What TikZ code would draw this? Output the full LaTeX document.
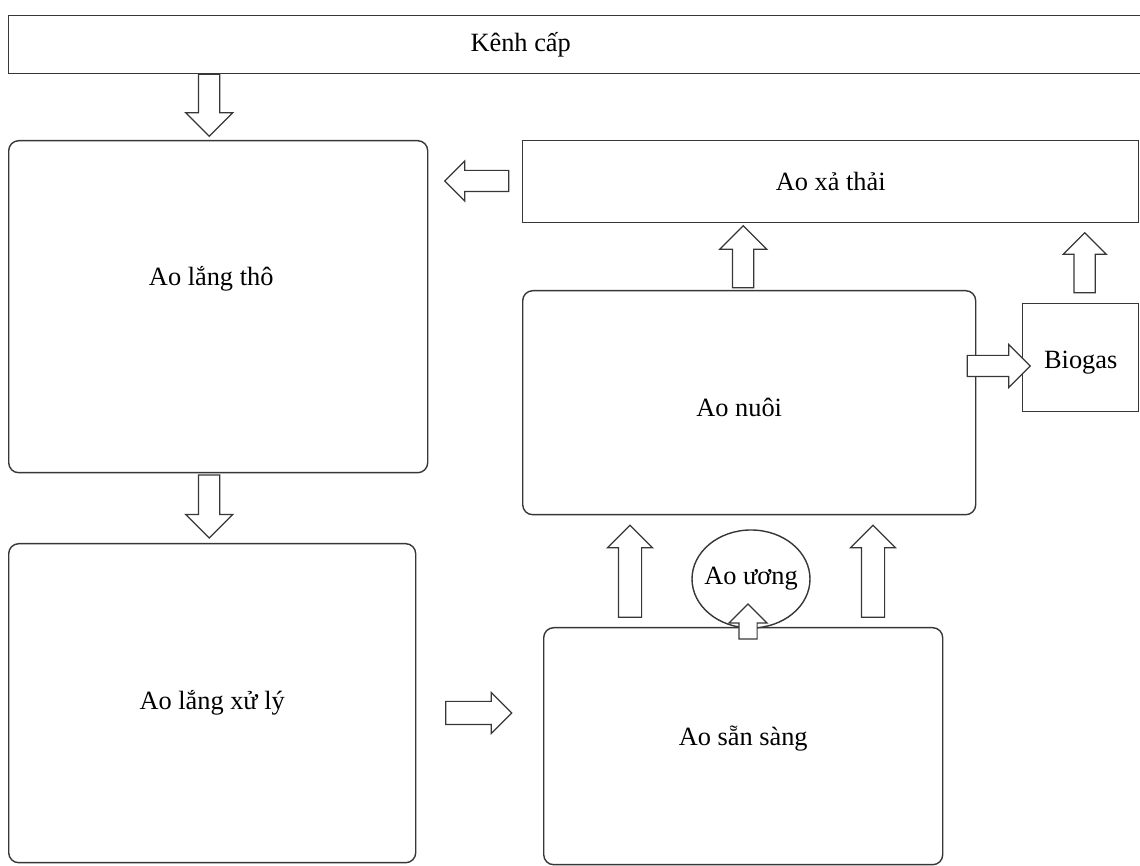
\documentclass[tikz,border=0pt]{standalone}
\usepackage{fontspec}
\setmainfont{Liberation Serif}
\usetikzlibrary{shapes.geometric, shapes.arrows, positioning, calc}
\definecolor{inkgray}{RGB}{55,55,55}

\begin{document}
\begin{tikzpicture}[
    pond/.style={rectangle, draw=inkgray, line width=0.8pt, rounded corners=0.2cm,
                 anchor=north west, inner sep=0pt},
    canal/.style={rectangle, draw=inkgray, line width=0.8pt,
                  anchor=north west, inner sep=0pt},
    blockarrow/.style={single arrow, draw=inkgray, fill=white, line width=0.7pt,
                       inner xsep=0pt, inner ysep=0.2cm, single arrow head extend=0.26cm,
                       minimum height=1.24cm},
    every node/.style={font=\fontsize{15}{18}\selectfont}
]
    \useasboundingbox (0,0) rectangle (22.8,17.32);

    % Top row - supply canal and discharge pond
    \node[canal, minimum width=23cm, minimum height=1.16cm,
          label={[name=kenh-txt, xshift=-1.26cm]center:Kênh cấp}] (kenh) at (0.16,17.02) {};
    \node[canal, minimum width=12.32cm, minimum height=1.64cm] (xathai) at (10.44,14.52) {Ao xả thải};

    % Left column - settling ponds
    \node[pond, minimum width=8.38cm, minimum height=6.64cm,
          label={[name=tho-txt, xshift=-0.14cm, yshift=0.56cm]center:Ao lắng thô}] (tho) at (0.16,14.52) {};
    \node[pond, minimum width=8.14cm, minimum height=6.38cm] (xuly) at (0.16,6.46) {Ao lắng xử lý};

    % Right column - culture ponds
    \node[pond, minimum width=9.06cm, minimum height=4.48cm] (nuoi) at (10.44,11.52) {};
    \node[name=nuoi-txt] at ($(nuoi.center)+(-0.2,-0.1)$) {Ao nuôi};
    \node[canal, minimum width=2.32cm, minimum height=2.16cm,
          label={[name=biogas-txt, yshift=-0.1cm]center:Biogas}] (biogas) at (20.44,11.26) {};
    \node[pond, minimum width=7.98cm, minimum height=4.74cm] (sansang) at (10.86,4.78) {};
    \node[name=sansang-txt] at ($(sansang.center)+(0,0.16)$) {Ao sẵn sàng};
    \node[ellipse, draw=inkgray, line width=0.8pt, fill=white, minimum width=2.36cm,
          minimum height=1.96cm, inner sep=0pt,
          label={[name=uong-txt]center:Ao ương}] (uong) at (15.02,5.74) {};

    % Flow arrows
    \node[blockarrow, rotate=-90] (a-kenh-tho) at ($(tho.north)+(-0.18,0.80)$) {};
    \node[blockarrow, rotate=-90, minimum height=1.26cm] (a-tho-xuly) at ($(tho.south)!0.5!(xuly.north)+(-0.12,0.14)$) {};
    \node[blockarrow, minimum height=1.32cm, inner ysep=0.22cm,
          single arrow head extend=0.18cm] (a-xuly-sansang) at (9.46,3.06) {};
    \node[blockarrow, rotate=180, minimum height=1.28cm,
          single arrow head extend=0.19cm] (a-xathai-tho) at (9.64,13.70) {};
    \node[blockarrow, rotate=90] (a-nuoi-xathai) at ($(nuoi.north)+(-0.12,0.56)$) {};
    \node[blockarrow, rotate=90, minimum height=1.2cm,
          single arrow head extend=0.22cm] (a-biogas-xathai) at ($(biogas.north)+(0.08,0.70)$) {};
    \node[blockarrow, minimum height=1.26cm,
          single arrow head extend=0.22cm] (a-nuoi-biogas) at (19.87,10.00) {};
    \node[blockarrow, rotate=90, minimum height=1.84cm, inner ysep=0.22cm,
          single arrow head extend=0.22cm] (a-sansang-nuoi-l) at (12.60,5.78) {};
    \node[blockarrow, rotate=90, minimum height=1.84cm, inner ysep=0.22cm,
          single arrow head extend=0.22cm] (a-sansang-nuoi-r) at (17.46,5.78) {};
    \node[blockarrow, rotate=90, minimum height=0.70cm, inner ysep=0.17cm,
          single arrow head extend=0.2cm] (a-sansang-uong) at (14.96,4.80) {};
\end{tikzpicture}
\end{document}
